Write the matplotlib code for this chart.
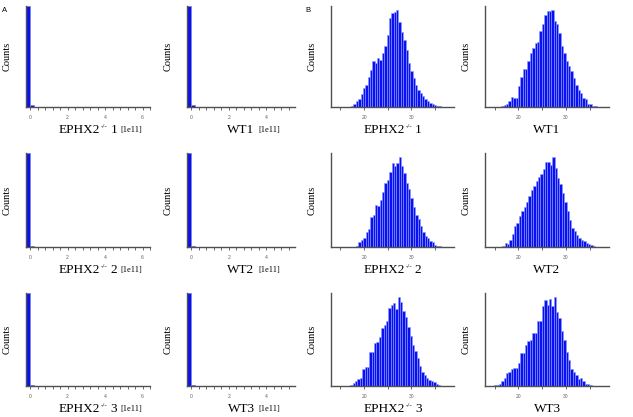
import numpy as np
import matplotlib.pyplot as plt
from matplotlib.ticker import MultipleLocator, FuncFormatter

plt.rcParams['font.family'] = ['Liberation Serif', 'DejaVu Serif']

# nombres de las muestras (fila por fila): texto, superindice, numero
muestras = [('EPHX2', '-/-', '1'), ('WT1', '', ''), ('EPHX2', '-/-', '2'),
            ('WT2', '', ''), ('EPHX2', '-/-', '3'), ('WT3', '', '')]
escala_a = '[1e11]'

# A: intensidad cruda, bins de 0.2e11 desde -0.2
a_inicio = -0.2
a_ancho = 0.2
a_ephx2_1 = [100, 1.5, 0.4]
a_wt_1 = [100, 1.5, 0.4]
a_ephx2_2 = [100, 1.5, 0.4]
a_wt_2 = [100, 1.5, 0.4]
a_ephx2_3 = [100, 1.5, 0.4]
a_wt_3 = [100, 1.5, 0.4]
a_xmax = [6.4, 5.53, 6.4, 5.53, 6.4, 5.53]

# B: log2 intensidad, bins de 0.5
b_ancho = 0.5
b_inicio = [17.25, 16.4, 18.3, 16.6, 17.1, 14.4]
b_ephx2_1 = [4, 10, 17, 25, 40, 57, 67, 90, 112, 137, 132, 147, 142, 162, 182, 217, 267, 282, 287, 292,
             257, 227, 202, 172, 132, 107, 87, 67, 52, 42, 32, 24, 17, 12, 9, 6, 4, 2]
b_wt_1 = [2, 5, 10, 17, 30, 28, 27, 64, 90, 114, 114, 137, 160, 177, 192, 194, 227, 247, 274, 287,
          287, 290, 257, 247, 222, 182, 162, 137, 122, 107, 87, 67, 52, 42, 27, 24, 10, 8, 4, 2]
b_ephx2_2 = [2, 15, 22, 30, 50, 60, 98, 105, 137, 135, 155, 180, 210, 220, 245, 275, 265, 275, 295, 265,
             240, 210, 190, 160, 130, 105, 90, 70, 50, 35, 28, 20, 15, 8, 4, 2, 1]
b_wt_2 = [2, 15, 10, 22, 45, 70, 80, 105, 120, 132, 150, 170, 190, 205, 220, 235, 245, 260, 283, 283,
          275, 302, 265, 230, 210, 180, 150, 120, 90, 65, 55, 40, 30, 25, 20, 15, 10, 6, 3]
b_ephx2_3 = [3, 10, 18, 25, 28, 58, 63, 63, 113, 113, 143, 146, 166, 193, 205, 218, 263, 273, 278, 258,
             300, 283, 253, 230, 198, 168, 138, 118, 93, 68, 48, 38, 26, 20, 18, 13, 8, 3]
b_wt_3 = [1, 2, 5, 8, 18, 28, 43, 48, 58, 63, 63, 78, 113, 113, 140, 153, 158, 183, 183, 223,
          223, 273, 293, 278, 296, 273, 306, 253, 233, 188, 158, 118, 88, 58, 48, 38, 23, 26, 18, 8, 6, 3]

datos_a = [a_ephx2_1, a_wt_1, a_ephx2_2, a_wt_2, a_ephx2_3, a_wt_3]
datos_b = [b_ephx2_1, b_wt_1, b_ephx2_2, b_wt_2, b_ephx2_3, b_wt_3]

W, H = 633, 417
cols_a = [(26, 150), (187, 295)]
cols_b = [(331, 454), (485, 609)]
filas = [(6, 107), (153, 247), (293, 386)]

azul = '#0a10f2'
gris = '#505050'

fig = plt.figure(figsize=(W / 100, H / 100), dpi=100)
rotulos = []  # (lista de textos, centro x, linea base y) en pixeles desde arriba


def ejes(x0, x1, y0, y1):
    ax = fig.add_axes([x0 / W, 1 - y1 / H, (x1 - x0) / W, (y1 - y0) / H])
    for s in ['top', 'right']:
        ax.spines[s].set_visible(False)
    for s in ['left', 'bottom']:
        ax.spines[s].set_color(gris)
        ax.spines[s].set_linewidth(1.0)
    ax.set_yticks([])
    ax.tick_params(axis='x', direction='out', length=1.8, width=0.6, color=gris,
                   labelsize=3.6, labelcolor='#606060', pad=4.2, labelfontfamily='Liberation Sans')
    ax.set_ylabel('Counts', fontsize=7.5, labelpad=10)
    return ax


def rotulo(nombre, con_escala, xc, base):
    txt, sup, num = nombre
    piezas = [(txt, 9.5, 0, 0)]
    if sup:
        piezas.append((sup, 5, 3.5, 0.3))
        piezas.append((num, 9.5, 0, 2.0))
    if con_escala:
        piezas.append((escala_a, 6, 0.5, 2.5))
    textos = []
    for t, fs, dy, gap in piezas:
        textos.append((fig.text(0, 0, t, fontsize=fs, ha='left', va='baseline'), dy, gap))
    rotulos.append((textos, xc, base, len(txt) + (1 if sup else 0)))


def etiqueta_par(v, p):
    r = round(v)
    if abs(v - r) < 1e-6 and r % 2 == 0:
        return str(int(r))
    return ''


for i in range(6):
    y0, y1 = filas[i // 2]

    # panel A
    x0, x1 = cols_a[i % 2]
    ax = ejes(x0, x1, y0, y1)
    vals = datos_a[i]
    bordes = a_inicio + a_ancho * np.arange(len(vals))
    ax.bar(bordes, vals, width=a_ancho, align='edge', color=azul, edgecolor='#7d86c8', linewidth=0.5)
    ax.set_xlim(-0.22, a_xmax[i])
    ax.set_ylim(0, max(vals))
    ax.xaxis.set_major_locator(MultipleLocator(0.4))
    ax.xaxis.set_major_formatter(FuncFormatter(etiqueta_par))
    rotulo(muestras[i], True, (x0 + x1) / 2, y1 + 26)

    # panel B
    x0, x1 = cols_b[i % 2]
    ax = ejes(x0, x1, y0, y1)
    vals = datos_b[i]
    bordes = b_inicio[i] + b_ancho * np.arange(len(vals))
    ax.bar(bordes, vals, width=b_ancho, align='edge', color=azul, edgecolor='#8a9cff', linewidth=0.4)
    ax.set_xlim(13, 39)
    ax.set_ylim(0, max(vals) * 1.04)
    ax.xaxis.set_major_locator(MultipleLocator(5))
    ax.xaxis.set_major_formatter(FuncFormatter(lambda v, p: str(int(v)) if v in (20, 30) else ''))
    rotulo(muestras[i], False, (x0 + x1) / 2, y1 + 26)

fig.text(2 / W, 1 - 12 / H, 'A', fontsize=5.5, family='Liberation Sans')
fig.text(305 / W, 1 - 12 / H, 'B', fontsize=5.5, family='Liberation Sans')

# colocar las piezas de cada rotulo una tras otra, centrando la parte principal
fig.canvas.draw()
rend = fig.canvas.get_renderer()
for textos, xc, base, _ in rotulos:
    anchos = [t.get_window_extent(rend).width for t, _, _ in textos]
    gaps = [g * 100 / 72 for _, _, g in textos]
    # parte principal = todo menos la escala [1e11]
    n_main = len(textos) - (1 if textos[-1][0].get_text() == escala_a else 0)
    ancho_main = sum(anchos[:n_main]) + sum(gaps[:n_main])
    x = xc - ancho_main / 2
    for (t, dy, _), w, g in zip(textos, anchos, gaps):
        x += g
        t.set_position((x / W, 1 - (base - dy * 100 / 72) / H))
        x += w

fig.savefig('out.png', dpi=100)
